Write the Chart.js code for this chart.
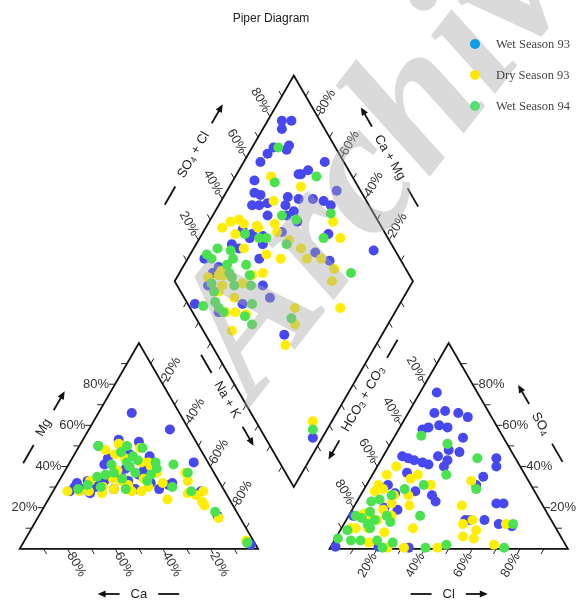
<!DOCTYPE html>
<html>
<head>
<meta charset="utf-8">
<title>Piper Diagram</title>
<script src="https://cdn.jsdelivr.net/npm/chart.js@4/dist/chart.umd.min.js"></script>
<style>
  html, body { margin: 0; padding: 0; background: #ffffff; }
  #wrap { width: 579px; height: 600px; }
</style>
</head>
<body>
<div id="wrap"><canvas id="piper" width="579" height="600"></canvas></div>
<script>
// ---- series and tick labels ----
const seriesLabels = ['Wet Season 93', 'Dry Season 93', 'Wet Season 94'];
const tickValues = [20, 40, 60, 80];
const tickLabels = ['20%', '40%', '60%', '80%'];

// ---- cation triangle: [Ca %, Mg %]  (Na + K = remainder) ----
const wet93Cations = [
  [20,66],[8,58],[6,42],[27,29],[32,53],[24,52],[42,50],[23,45],[65,28],[22,31],
  [3,3],[44,41],[60,32],[50,32],[53,30],[46,29],[37,29],[29,38],[31,46],[29,32],
  [55,33],[36,39],[59,29],[32,36],[45,35],[2,2],[9,16],[10,28],[20,32],
  [62,30],[57,27],[55,31],[48,33],[40,35],[38,33],[34,40],[41,44]
];
const dry93Cations = [
  [40,48],[33,51],[25,49],[37,46],[34,44],[28,42],[25,42],[40,38],[25,40],[24,37],
  [54,33],[44,34],[41,33],[31,34],[24,32],[13,33],[66,28],[61,28],[57,28],[52,27],
  [46,29],[39,28],[35,28],[26,24],[16,27],[13,26],[9,28],[12,23],[12,21],[9,15],
  [3,4],[12,37],[50,30],[39,31],[31,30]
];
const wet94Cations = [
  [42,50],[30,50],[24,49],[34,47],[30,45],[22,42],[15,41],[41,41],[34,42],[34,40],
  [33,37],[23,39],[11,37],[50,35],[46,36],[40,34],[30,33],[21,30],[14,28],[61,29],
  [51,30],[41,29],[9,18],[3,3],[56,31],[42,37],[29,43],[27,36]
];

// ---- anion triangle: [Cl %, SO4 %]  (HCO3 + CO3 = remainder) ----
const wet93Anions = [
  [7,76],[11,66],[15,67],[21,66],[26,64],[10,58],[12,59],[16,60],[20,59],[29,54],
  [26,48],[31,47],[28,43],[48,44],[50,40],[8,45],[11,44],[14,43],[18,42],[21,41],
  [23,45],[28,40],[47,35],[46,31],[14,37],[22,28],[30,26],[33,23],[9,31],[14,27],
  [19,19],[59,22],[62,22],[50,14],[52,14],[58,14],[65,12],[71,11],[2,1],[20,1],
  [2,16],[13,20],[33,0.5]
];
const dry93Anions = [
  [8,40],[6,36],[19,36],[17,34],[27,31],[43,33],[5,28],[5,31],[8,29],[14,26],
  [15,22],[20,26],[6,17],[9,16],[18,16],[23,21],[30,10],[45,21],[53,14],[50,12],
  [57,9],[53,6],[58,5],[68,2],[68,12],[31,0.5],[45,0.5],[24,0.5],[4,10],[11,10],
  [13,14],[19,8],[15,3],[6,10],[13,19]
];
const wet94Anions = [
  [11,55],[24,51],[40,44],[31,36],[24,31],[47,29],[17,29],[9,24],[13,26],[30,16],
  [3,16],[6,15],[8,18],[12,14],[16,16],[19,13],[3,9],[1,5],[7,4],[12,10],
  [18,4],[25,3],[40,0.5],[48,2],[71,12],[73,0.5],[22,0.5],[11,4],[10,12],[6,23]
];

// ---- diamond: [SO4 + Cl %, Ca + Mg %] ----
const wet93Diamond = [
  [84,94],[88,90],[82,92],[74,91],[70,92],[79,85],[81,85],[65,93],[92,66],[78,74],
  [79,73],[83,71],[58,91],[90,54],[55,88],[57,85],[68,73],[72,68],[78,62],[82,57],
  [84,53],[51,86],[54,83],[58,80],[65,72],[67,67],[55,77],[63,69],[66,63],[76,47],
  [57,67],[41,84],[44,79],[48,74],[46,72],[42,79],[33,85],[35,81],[41,70],[66,48],
  [70,40],[91,24],[18,93],[22,85],[13,85],[36,62],[36,56],[3,86],[23,66],[11,74],
  [33,41],[18,86],[20,4]
];
const dry93Diamond = [
  [66,85],[76,70],[61,78],[48,79],[56,72],[55,69],[33,93],[38,91],[42,88],[43,85],
  [37,86],[37,79],[58,62],[61,55],[61,50],[50,61],[45,68],[39,65],[81,48],[80,41],
  [67,44],[70,36],[66,34],[63,24],[15,87],[20,83],[19,79],[16,79],[28,71],[34,69],
  [21,71],[14,71],[18,67],[22,62],[12,64],[44,43],[40,39],[31,38],[24,8],[48,78],
  [22,83],[22,81]
];
const wet94Diamond = [
  [76,89],[66,82],[85,66],[61,71],[66,64],[46,75],[49,72],[56,62],[82,51],[73,48],
  [76,28],[41,82],[26,90],[20,93],[21,90],[31,84],[30,81],[26,82],[34,74],[25,79],
  [25,77],[33,70],[31,67],[15,84],[14,81],[24,74],[12,78],[12,75],[13,72],[27,62],
  [21,62],[6,82],[22,57],[40,42],[22,6]
];

// ---- colours ----
const pointColors  = ['#4848f2', '#ffee00', '#4be250'];
const legendColors = ['#0b9ee8', '#ffe600', '#55de72'];

// ---- layout geometry (side of each triangle = 100 units) ----
const H = Math.sqrt(3) / 2;
const GAP = 30;
const X_MIN = -6.186, X_MAX = 232.577;
const Y_MIN = -19.45, Y_MAX = 228.89;

const cationPoint = ([ca, mg]) => {
  const na = 100 - ca - mg;
  return { x: na + mg / 2, y: mg * H };
};
const anionPoint = ([cl, so4]) => ({ x: 100 + GAP + cl + so4 / 2, y: so4 * H });
const DL = { x: 50 + GAP / 2, y: (100 + GAP) * H };
const diamondPoint = ([sc, cm]) => {
  const nk = 100 - cm;
  return { x: DL.x + (sc + nk) / 2, y: DL.y + (sc - nk) * H };
};

// vertices
const C0 = { x: 0, y: 0 }, C1 = { x: 100, y: 0 }, C2 = { x: 50, y: 100 * H };
const A0 = { x: 100 + GAP, y: 0 }, A1 = { x: 200 + GAP, y: 0 }, A2 = { x: 150 + GAP, y: 100 * H };
const DLt = DL, DT = { x: DL.x + 50, y: DL.y + 100 * H };
const DR = { x: DL.x + 100, y: DL.y }, DB = { x: DL.x + 50, y: DL.y - 100 * H };

const seriesData = [
  [wet93Cations, wet93Anions, wet93Diamond],
  [dry93Cations, dry93Anions, dry93Diamond],
  [wet94Cations, wet94Anions, wet94Diamond]
];

const datasets = seriesLabels.map((label, i) => {
  const [cat, an, dia] = seriesData[i];
  return {
    label,
    data: [...cat.map(cationPoint), ...an.map(anionPoint), ...dia.map(diamondPoint)],
    backgroundColor: pointColors[i],
    borderWidth: 0,
    pointRadius: 5,
    pointHoverRadius: 5,
    order: 3 - i,
    clip: false
  };
});

// ---- axes of the three plots ----
const axesSpec = [
  { from: C0, to: C2, dir: [-1, 0], label: { align: 'right' } },          // Mg
  { from: C2, to: C1, dir: [0.5, -H], label: { angle: -60, dist: 17 } },   // Na + K
  { from: C1, to: C0, dir: [0.5, H], label: { angle: 60, dist: 18 } },     // Ca
  { from: A0, to: A1, dir: [-0.5, H], label: { angle: -60, dist: 19 } },   // Cl
  { from: A1, to: A2, dir: [1, 0], label: { align: 'left' } },            // SO4
  { from: A2, to: A0, dir: [-0.5, -H], label: { angle: 60, dist: 18 } },   // HCO3
  { from: DLt, to: DT, dir: [-0.5, -H], label: { angle: 60, dist: 19 } },  // SO4 + Cl
  { from: DR, to: DT, dir: [0.5, -H], label: { angle: -60, dist: 17 } },   // Ca + Mg
  { from: DLt, to: DB, dir: [-0.5, H] },                                   // Na + K
  { from: DR, to: DB, dir: [0.5, H] }                                      // HCO3 + CO3
];

const FONT = '"Liberation Sans", Arial, sans-serif';

function richWidth(ctx, parts) {
  let w = 0;
  parts.forEach(p => {
    ctx.font = (p.sub ? '9px ' : '13px ') + FONT;
    w += ctx.measureText(p.t).width;
  });
  return w;
}
function drawRich(ctx, parts, x0) {
  let x = x0;
  parts.forEach(p => {
    ctx.font = (p.sub ? '9px ' : '13px ') + FONT;
    ctx.fillText(p.t, x, p.sub ? 3 : 0);
    x += ctx.measureText(p.t).width;
  });
}

const piperFrame = {
  id: 'piperFrame',
  beforeDatasetsDraw(chart) {
    const { ctx, scales: { x, y } } = chart;
    const P = (p) => [x.getPixelForValue(p.x), y.getPixelForValue(p.y)];
    const lerp = (a, b, t) => ({ x: a.x + (b.x - a.x) * t, y: a.y + (b.y - a.y) * t });

    ctx.save();
    // outlines
    ctx.strokeStyle = '#111';
    ctx.lineWidth = 1.8;
    ctx.lineJoin = 'miter';
    [[C0, C1, C2], [A0, A1, A2], [DLt, DT, DR, DB]].forEach(poly => {
      ctx.beginPath();
      poly.forEach((v, k) => {
        const [px, py] = P(v);
        k ? ctx.lineTo(px, py) : ctx.moveTo(px, py);
      });
      ctx.closePath();
      ctx.stroke();
    });

    // ticks every 10 %, labels at the tick values
    ctx.lineWidth = 1;
    ctx.strokeStyle = '#222';
    axesSpec.forEach(ax => {
      for (let v = 10; v < 100; v += 10) {
        const [px, py] = P(lerp(ax.from, ax.to, v / 100));
        ctx.beginPath();
        ctx.moveTo(px, py);
        ctx.lineTo(px + ax.dir[0] * 6, py + ax.dir[1] * 6);
        ctx.stroke();
      }
      if (!ax.label) return;
      ctx.fillStyle = '#333';
      ctx.font = '13px ' + FONT;
      tickValues.forEach((v, k) => {
        const [px, py] = P(lerp(ax.from, ax.to, v / 100));
        const txt = tickLabels[k];
        if (ax.label.align) {
          ctx.textAlign = ax.label.align;
          ctx.textBaseline = 'middle';
          const off = ax.label.align === 'right' ? -6 : 6;
          ctx.fillText(txt, px + off, py);
        } else {
          const d = ax.label.dist;
          ctx.save();
          ctx.translate(px + ax.dir[0] * d, py + ax.dir[1] * d);
          ctx.rotate(ax.label.angle * Math.PI / 180);
          ctx.textAlign = 'center';
          ctx.textBaseline = 'middle';
          ctx.fillText(txt, 0, 0);
          ctx.restore();
        }
      });
    });

    // axis titles with a bar on one side and an arrow on the other
    const mid = (a, b) => { const pa = P(a), pb = P(b); return [(pa[0] + pb[0]) / 2, (pa[1] + pb[1]) / 2]; };
    const shift = (m, n, d, t, a) => [m[0] + n[0] * d + t[0] * a, m[1] + n[1] * d + t[1] * a];
    const titles = [
      { parts: [{ t: 'Mg' }], c: shift(mid(C0, C2), [-H, -0.5], 40, [0.5, -H], -2), angle: -60, arrow: 'after' },
      { parts: [{ t: 'Ca' }], c: [mid(C0, C1)[0], 594], angle: 0, arrow: 'before' },
      { parts: [{ t: 'Na + K' }], c: shift(mid(DLt, DB), [-H, 0.5], 14, [0.5, H], 10), angle: 60, arrow: 'after' },
      { parts: [{ t: 'SO' }, { t: '4', sub: true }, { t: ' + Cl' }], c: shift(mid(DLt, DT), [-H, -0.5], 47, [0.5, -H], 0), angle: -60, arrow: 'after' },
      { parts: [{ t: 'Ca + Mg' }], c: shift(mid(DT, DR), [H, -0.5], 42, [0.5, H], 0), angle: 60, arrow: 'before' },
      { parts: [{ t: 'HCO' }, { t: '3', sub: true }, { t: ' + CO' }, { t: '3', sub: true }], c: shift(mid(DR, DB), [H, 0.5], 16, [-0.5, H], 8), angle: -60, arrow: 'before' },
      { parts: [{ t: 'Cl' }], c: [mid(A0, A1)[0], 594], angle: 0, arrow: 'after' },
      { parts: [{ t: 'SO' }, { t: '4', sub: true }], c: shift(mid(A1, A2), [H, -0.5], 39, [0.5, H], -3), angle: 60, arrow: 'before' }
    ];
    const GAPT = 11, LEN = 21;
    titles.forEach(tt => {
      ctx.save();
      ctx.translate(tt.c[0], tt.c[1]);
      ctx.rotate(tt.angle * Math.PI / 180);
      const w = richWidth(ctx, tt.parts);
      ctx.fillStyle = '#222';
      ctx.textAlign = 'left';
      ctx.textBaseline = 'middle';
      drawRich(ctx, tt.parts, -w / 2);
      const a0 = w / 2 + GAPT, a1 = a0 + LEN;
      ctx.strokeStyle = '#111';
      ctx.lineWidth = 1.8;
      // bar
      const barSign = tt.arrow === 'after' ? -1 : 1;
      ctx.beginPath();
      ctx.moveTo(barSign * a0, 0);
      ctx.lineTo(barSign * a1, 0);
      ctx.stroke();
      // arrow
      const s = -barSign;
      ctx.beginPath();
      ctx.moveTo(s * a0, 0);
      ctx.lineTo(s * (a1 - 5), 0);
      ctx.stroke();
      ctx.beginPath();
      ctx.moveTo(s * (a1 + 1), 0);
      ctx.lineTo(s * (a1 - 7), -3.5);
      ctx.lineTo(s * (a1 - 7), 3.5);
      ctx.closePath();
      ctx.fillStyle = '#111';
      ctx.fill();
      ctx.restore();
    });
    ctx.restore();
  },
  afterDatasetsDraw(chart) {
    const { ctx } = chart;
    // faint watermark lettering across the plot
    ctx.save();
    ctx.translate(254, 402);
    ctx.rotate(-52 * Math.PI / 180);
    ctx.font = 'italic bold 188px "Liberation Serif", "Times New Roman", serif';
    ctx.fillStyle = 'rgba(168,168,168,0.42)';
    ctx.textBaseline = 'alphabetic';
    ctx.fillText('Archive', 0, 0);
    ctx.restore();
  },
  afterDraw(chart) {
    const { ctx } = chart;
    ctx.save();
    // title
    ctx.font = '12px ' + FONT;
    ctx.fillStyle = '#222';
    ctx.textAlign = 'center';
    ctx.textBaseline = 'middle';
    ctx.fillText('Piper Diagram', 271, 19);
    // legend
    ctx.font = '12.5px "Liberation Serif", "Times New Roman", serif';
    ctx.textAlign = 'left';
    seriesLabels.forEach((lab, i) => {
      const cy = 44 + i * 31;
      ctx.beginPath();
      ctx.arc(475, cy, 5, 0, Math.PI * 2);
      ctx.fillStyle = legendColors[i];
      ctx.fill();
      ctx.fillStyle = '#444';
      ctx.fillText(lab, 496, cy + 1);
    });
    ctx.restore();
  }
};

new Chart(document.getElementById('piper'), {
  type: 'scatter',
  data: { datasets },
  options: {
    responsive: false,
    animation: false,
    devicePixelRatio: 1,
    events: [],
    layout: { padding: 0 },
    plugins: {
      legend: { display: false },
      title: { display: false },
      tooltip: { enabled: false }
    },
    scales: {
      x: { type: 'linear', display: false, min: X_MIN, max: X_MAX, bounds: 'data', grid: { display: false } },
      y: { type: 'linear', display: false, min: Y_MIN, max: Y_MAX, bounds: 'data', grid: { display: false } }
    }
  },
  plugins: [piperFrame]
});
</script>
</body>
</html>
